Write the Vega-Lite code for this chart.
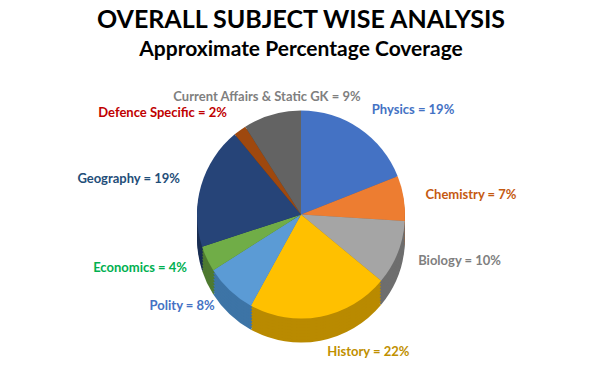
{
  "$schema": "https://vega.github.io/schema/vega-lite/v6.json",
  "width": 602,
  "height": 369,
  "autosize": {"type": "fit", "contains": "padding"},
  "background": "white",
  "padding": {"top": 8, "left": 0, "right": 0, "bottom": 0},
  "title": {
    "text": "OVERALL SUBJECT WISE ANALYSIS",
    "subtitle": "Approximate Percentage Coverage",
    "anchor": "middle",
    "font": "Lato",
    "fontSize": 25,
    "fontWeight": "bold",
    "color": "#000000",
    "subtitleFont": "Lato",
    "subtitleFontSize": 21,
    "subtitleFontWeight": "bold",
    "subtitleColor": "#000000",
    "subtitlePadding": 6,
    "offset": 0
  },
  "config": {"view": {"stroke": null}},
  "data": {
    "values": [
      {"idx": 1, "subject": "Physics", "pct": 19, "label": "Physics = 19%"},
      {"idx": 2, "subject": "Chemistry", "pct": 7, "label": "Chemistry = 7%"},
      {"idx": 3, "subject": "Biology", "pct": 10, "label": "Biology = 10%"},
      {"idx": 4, "subject": "History", "pct": 22, "label": "History = 22%"},
      {"idx": 5, "subject": "Polity", "pct": 8, "label": "Polity = 8%"},
      {"idx": 6, "subject": "Economics", "pct": 4, "label": "Economics = 4%"},
      {"idx": 7, "subject": "Geography", "pct": 19, "label": "Geography = 19%"},
      {"idx": 8, "subject": "Defence Specific", "pct": 2, "label": "Defence Specific = 2%"},
      {"idx": 9, "subject": "Current Affairs & Static GK", "pct": 9, "label": "Current Affairs & Static GK = 9%"}
    ]
  },
  "encoding": {
    "theta": {"field": "pct", "type": "quantitative", "stack": true},
    "order": {"field": "idx", "type": "quantitative"}
  },
  "layer": [
    {
      "encoding": {
        "color": {
          "field": "subject",
          "type": "nominal",
          "legend": null,
          "scale": {
            "domain": ["Physics", "Chemistry", "Biology", "History", "Polity", "Economics", "Geography", "Defence Specific", "Current Affairs & Static GK"],
            "range": ["#2F5597", "#B45A1E", "#6E6E6E", "#B98A00", "#3D74A6", "#4E7A30", "#1A2F54", "#6E320A", "#404040"]
          }
        }
      },
      "layer": [
        {"mark": {"type": "arc", "radius": 104, "yOffset": 24}},
        {"mark": {"type": "arc", "radius": 104, "yOffset": 21}},
        {"mark": {"type": "arc", "radius": 104, "yOffset": 18}},
        {"mark": {"type": "arc", "radius": 104, "yOffset": 15}},
        {"mark": {"type": "arc", "radius": 104, "yOffset": 12}},
        {"mark": {"type": "arc", "radius": 104, "yOffset": 9}},
        {"mark": {"type": "arc", "radius": 104, "yOffset": 6}},
        {"mark": {"type": "arc", "radius": 104, "yOffset": 3}}
      ]
    },
    {
      "mark": {"type": "arc", "radius": 104},
      "encoding": {
        "color": {
          "field": "subject",
          "type": "nominal",
          "legend": null,
          "scale": {
            "domain": ["Physics", "Chemistry", "Biology", "History", "Polity", "Economics", "Geography", "Defence Specific", "Current Affairs & Static GK"],
            "range": ["#4472C4", "#ED7D31", "#A5A5A5", "#FFC000", "#5B9BD5", "#70AD47", "#264478", "#9E480E", "#636363"]
          }
        }
      }
    },
    {
      "encoding": {
        "color": {
          "field": "subject",
          "type": "nominal",
          "legend": null,
          "scale": {
            "domain": ["Physics", "Chemistry", "Biology", "History", "Polity", "Economics", "Geography", "Defence Specific", "Current Affairs & Static GK"],
            "range": ["#4472C4", "#C55A11", "#7F7F7F", "#BF9000", "#4472C4", "#00B050", "#1F4E79", "#C00000", "#7F7F7F"]
          }
        }
      },
      "layer": [
        {
          "mark": {"type": "text", "radius": 126, "align": "left", "font": "Lato", "fontSize": 13, "fontWeight": "bold"},
          "encoding": {
            "text": {"condition": {"test": "indexof(['Physics','Chemistry','Biology'], datum.subject) >= 0", "field": "label"}, "value": ""}
          }
        },
        {
          "mark": {"type": "text", "radius": 140, "align": "left", "font": "Lato", "fontSize": 13, "fontWeight": "bold"},
          "encoding": {
            "text": {"condition": {"test": "datum.subject === 'History'", "field": "label"}, "value": ""}
          }
        },
        {
          "mark": {"type": "text", "radius": 126, "align": "right", "font": "Lato", "fontSize": 13, "fontWeight": "bold"},
          "encoding": {
            "text": {"condition": {"test": "indexof(['Polity','Economics','Geography','Defence Specific'], datum.subject) >= 0", "field": "label"}, "value": ""}
          }
        },
        {
          "mark": {"type": "text", "radius": 122, "align": "center", "font": "Lato", "fontSize": 13, "fontWeight": "bold"},
          "encoding": {
            "text": {"condition": {"test": "datum.subject === 'Current Affairs & Static GK'", "field": "label"}, "value": ""}
          }
        }
      ]
    }
  ],
  "resolve": {"scale": {"color": "independent"}}
}
